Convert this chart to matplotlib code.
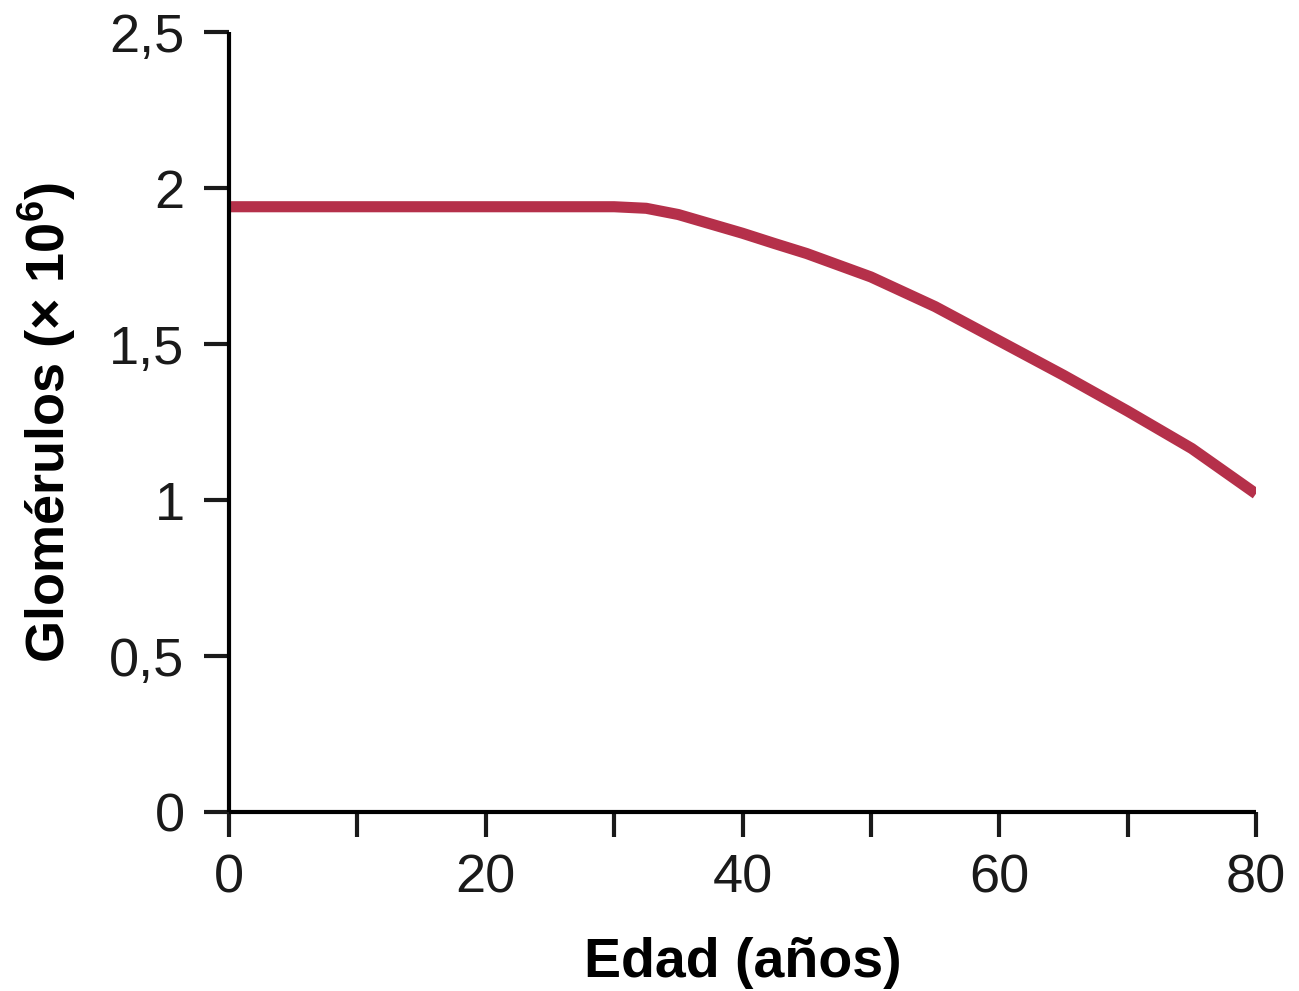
import matplotlib
matplotlib.use("Agg")
import matplotlib.pyplot as plt

plt.rcParams['font.family'] = ['Liberation Sans', 'DejaVu Sans']
plt.rcParams['mathtext.default'] = 'regular'

# Datos
edad = [0, 10, 20, 30, 32.5, 35, 37.5, 40, 42.5, 45, 50, 55, 60, 65, 70, 75, 80]
glomerulos = [1.94, 1.94, 1.94, 1.94, 1.935, 1.915, 1.885, 1.855, 1.822, 1.79,
              1.715, 1.62, 1.51, 1.40, 1.285, 1.165, 1.02]

x_ticks = [0, 10, 20, 30, 40, 50, 60, 70, 80]
x_labels = ['0', '', '20', '', '40', '', '60', '', '80']
y_ticks = [0, 0.5, 1, 1.5, 2, 2.5]
y_labels = ['0', '0,5', '1', '1,5', '2', '2,5']

fig = plt.figure(figsize=(12.99, 9.91), dpi=100)
ax = fig.add_axes([0.1763, 0.1806, 0.7906, 0.7871])

ax.plot(edad, glomerulos, color='#B5304A', linewidth=8, solid_capstyle='butt',
        solid_joinstyle='round')

ax.set_xlim(0, 80)
ax.set_ylim(0, 2.5)
ax.set_xticks(x_ticks)
ax.set_xticklabels(x_labels)
ax.set_yticks(y_ticks)
ax.set_yticklabels(y_labels)

for s in ['top', 'right']:
    ax.spines[s].set_visible(False)
for s in ['left', 'bottom']:
    ax.spines[s].set_linewidth(3)
    ax.spines[s].set_capstyle('butt')

ax.tick_params(axis='both', direction='out', length=18, width=3,
               labelsize=39, colors='#1a1a1a')
ax.tick_params(axis='x', pad=12)
ax.tick_params(axis='y', pad=14)

ax.set_xlabel('Edad (años)', fontsize=40, fontweight='bold', labelpad=24)
ax.set_ylabel('Glomérulos (× 10$^{6}$)', fontsize=39, fontweight='bold')
ax.yaxis.set_label_coords(-0.147, 0.5)

fig.savefig('out.png', dpi=100)
